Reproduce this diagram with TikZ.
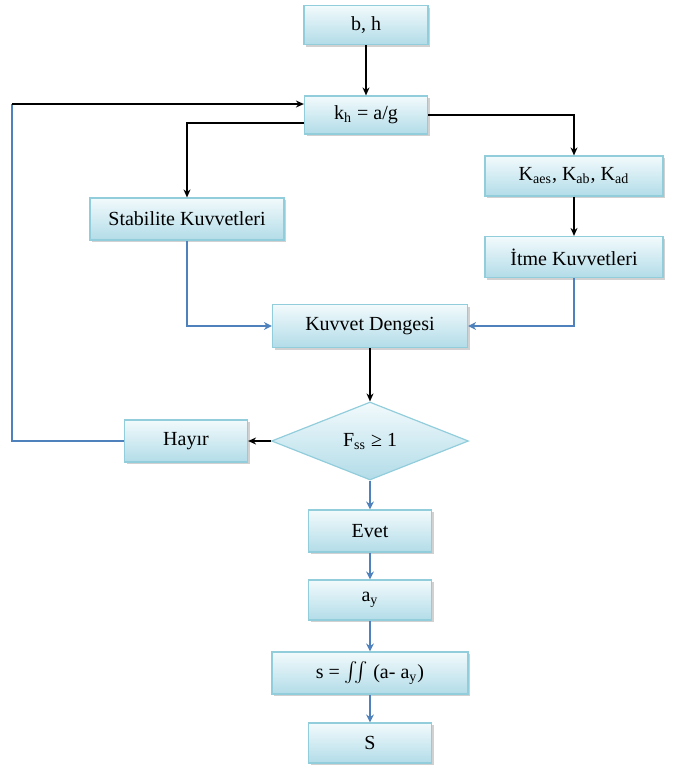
\documentclass[tikz,border=0pt]{standalone}
\usepackage{amsmath}
\usepackage{fontspec}
\setmainfont{Liberation Serif}
\usepackage{xcolor}
\definecolor{boxedge}{RGB}{146,205,220}
\definecolor{boxtop}{RGB}{242,250,252}
\definecolor{boxbottom}{RGB}{178,220,232}
\definecolor{flowblue}{RGB}{79,129,189}
\usepackage{tikz}
\usetikzlibrary{arrows.meta, positioning, shapes.geometric, shadows, calc}

\tikzset{
  stepbox/.style={draw=boxedge, line width=0.6pt, top color=boxtop, bottom color=boxbottom,
    drop shadow={shadow xshift=1.2pt, shadow yshift=-1.2pt, fill=black!30, opacity=0.6},
    font=\fontsize{10}{11}\selectfont, inner sep=1pt},
  decision/.style={diamond, draw=boxedge, line width=0.6pt, top color=boxtop, bottom color=boxbottom,
    font=\fontsize{10}{11}\selectfont, inner sep=0pt, aspect=2.5},
  darkline/.style={-{Stealth[length=4pt,width=3.5pt]}, black, line width=0.8pt},
  blueline/.style={-{Stealth[length=4pt,width=4pt]}, flowblue, line width=0.8pt}
}

\begin{document}
\begin{tikzpicture}[x=0.5pt, y=-0.5pt]
\useasboundingbox (0,0) rectangle (674,767);

% === Input and seismic coefficient ===
\node[stepbox, minimum width=62pt, minimum height=19.5pt] (bh) at (366,25) {b, h};
\node[stepbox, minimum width=61.5pt, minimum height=19pt] (kh) at (366,115) {k\textsubscript{h} = a/g};

% === Two branches ===
\node[stepbox, minimum width=97pt, minimum height=21pt] (stab) at (187,219) {Stabilite Kuvvetleri};
\node[stepbox, minimum width=89pt, minimum height=20pt] (kcoef) at (574,176) {K\textsubscript{aes}, K\textsubscript{ab}, K\textsubscript{ad}};
\node[stepbox, minimum width=89pt, minimum height=20.5pt] (itme) at (574,257) {İtme Kuvvetleri};

% === Balance and check ===
\node[stepbox, minimum width=97.5pt, minimum height=21.5pt] (kuv) at (370,326) {Kuvvet Dengesi};
\node[decision, minimum width=98.5pt, minimum height=39pt] (check) at (370,441) {F\textsubscript{ss} ≥ 1};
\node[stepbox, minimum width=61.5pt, minimum height=21pt] (hayir) at (186,441) {Hayır};

% === Result chain ===
\node[stepbox, minimum width=61.5pt, minimum height=21pt] (evet) at (370,531) {Evet};
\node[stepbox, minimum width=61.5pt, minimum height=20pt] (ay) at (370,600) {a\textsubscript{y}};
\node[stepbox, minimum width=98pt, minimum height=21pt] (disp) at (370,673) {s = $\iint$ (a- a\textsubscript{y})};
\node[stepbox, minimum width=61.5pt, minimum height=20pt] (res) at (370,743) {S};

% Loop points
\coordinate (loopin) at ($(kh.west)+(0,5.5pt)$);
\coordinate (loopout) at ($(kh.west)+(0,-4pt)$);
\coordinate (loopbot) at (12,441);
\coordinate (looptop) at (12,104);

% Arrows
\draw[darkline] (bh) -- (kh);
\draw[darkline] (loopout) -| (stab.north);
\draw[darkline] (kh.east) -| (kcoef.north);
\draw[darkline] (kcoef) -- (itme);
\draw[blueline] (stab.south) |- (kuv.west);
\draw[blueline] (itme.south) |- (kuv.east);
\draw[darkline] (kuv) -- (check);
\draw[darkline] (check.west) -- (hayir.east);
\draw[flowblue, line width=0.8pt] (hayir.west) -- (loopbot) -- (looptop);
\draw[darkline] (looptop) -- (looptop -| kh.west);
\draw[blueline] (check.south) -- (evet.north);
\draw[blueline] (evet) -- (ay);
\draw[blueline] (ay) -- (disp);
\draw[blueline] (disp) -- (res);

\end{tikzpicture}
\end{document}
